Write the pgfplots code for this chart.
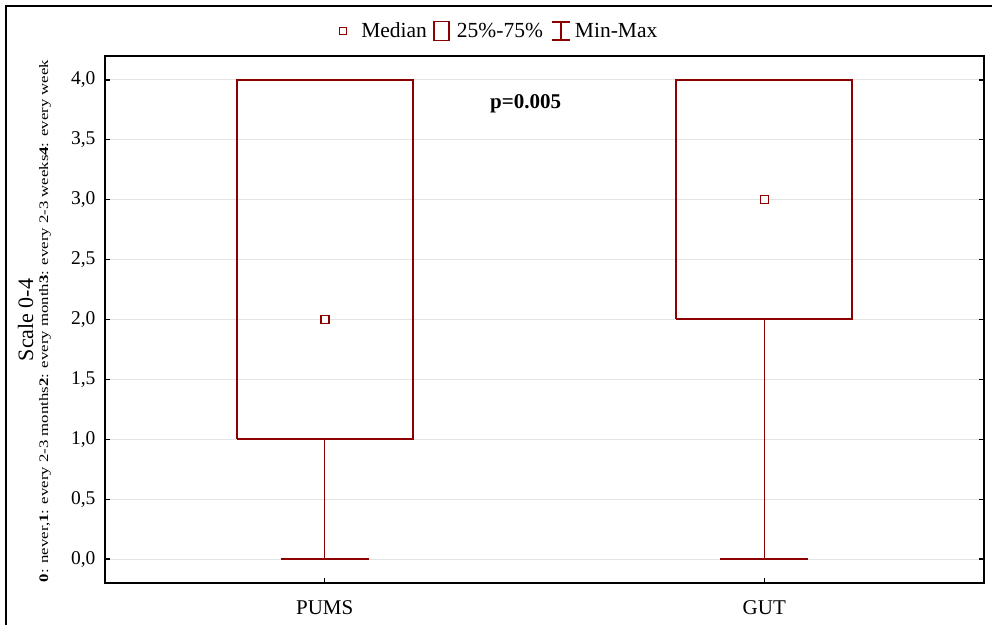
\documentclass[border=0pt]{standalone}
\usepackage{fontspec}
\setmainfont{Liberation Serif}
\usepackage{graphicx}
\usepackage{pgfplots}
\pgfplotsset{compat=1.18}
\definecolor{boxred}{RGB}{140,0,0}

\begin{document}
\begin{tikzpicture}[x=1bp,y=1bp]
\useasboundingbox (0,0) rectangle (992,625);
% outer frame (cut at right and bottom)
\draw[line width=2.5bp] (6,-10) -- (6,619) -- (1010,619);

\begin{axis}[
    at={(105bp,42bp)}, anchor=south west,
    scale only axis, width=879bp, height=527bp,
    xmin=0.5, xmax=2.5, ymin=-0.2, ymax=4.2,
    xtick={1,2}, xticklabels={PUMS,GUT},
    ytick={0,0.5,1,1.5,2,2.5,3,3.5,4},
    yticklabel style={font=\fontsize{19.5bp}{22bp}\selectfont, xshift=-6bp,
        /pgf/number format/fixed, /pgf/number format/fixed zerofill,
        /pgf/number format/precision=1, /pgf/number format/use comma,
        /pgf/number format/assume math mode=true},
    xticklabel style={font=\fontsize{21bp}{23bp}\selectfont, yshift=-14bp},
    ymajorgrids, grid style={gray!22, line width=1bp},
    axis line style={line width=1.5bp, black},
    tick style={black, line width=1.2bp},
    major tick length=5bp, tick align=inside, xtick pos=left,
    clip=false,
    legend columns=3,
    legend style={at={(0.4470,1.0474)}, anchor=center, draw=none, fill=none,
        font=\fontsize{21.5bp}{24bp}\selectfont,
        nodes={inner xsep=0pt, inner ysep=1bp},
        column sep=0pt},
]
% boxes 25%-75%
\addplot[boxred, line width=2bp, line join=miter, forget plot] coordinates {(0.8,1) (1.2,1) (1.2,4) (0.8,4) (0.8,1)};
\addplot[boxred, line width=2bp, line join=miter, forget plot] coordinates {(1.8,2) (2.2,2) (2.2,4) (1.8,4) (1.8,2)};
% whiskers min-max
\addplot[boxred, line width=1.2bp, forget plot] coordinates {(1,1) (1,0)};
\addplot[boxred, line width=1.5bp, forget plot] coordinates {(0.9,0) (1.1,0)};
\addplot[boxred, line width=1.2bp, forget plot] coordinates {(2,2) (2,0)};
\addplot[boxred, line width=1.5bp, forget plot] coordinates {(1.9,0) (2.1,0)};
% medians
\addplot[only marks, mark=square*, mark size=4bp, mark options={fill=white, draw=boxred, line width=1.5bp}, forget plot] coordinates {(1,2) (2,3)};

\addlegendimage{legend image code/.code={
    \draw[boxred, line width=1.5bp, fill=white] (0bp,-3.5bp) rectangle (7bp,3.5bp);
    \path[draw=none] (0bp,0bp) -- (22bp,0bp);}}
\addlegendentry{Median}
\addlegendimage{legend image code/.code={
    \path[draw=none] (-7bp,0bp) -- (23bp,0bp);
    \draw[boxred, line width=1.5bp] (0bp,-9.5bp) rectangle (15bp,9.5bp);}}
\addlegendentry{25\%-75\%}
\addlegendimage{legend image code/.code={
    \path[draw=none] (-9bp,0bp) -- (23bp,0bp);
    \draw[boxred, line width=1.3bp] (0bp,-9bp) -- (18bp,-9bp) (9bp,-9bp) -- (9bp,9bp) (0bp,9bp) -- (18bp,9bp);}}
\addlegendentry{Min-Max}

\node[font=\bfseries\fontsize{21bp}{24bp}\selectfont] at (axis cs:1.457,3.8) {p=0.005};
\end{axis}

\node[rotate=90, anchor=base, font=\fontsize{22bp}{24bp}\selectfont] at (33,305) {Scale 0-4};
\node[rotate=90, anchor=base, inner sep=0pt, font=\fontsize{13bp}{15bp}\selectfont] at (48,304)
    {\resizebox{522bp}{\height}{\textbf{0}: never,\textbf{1}: every 2-3 months\textbf{2}: every month\textbf{3}: every 2-3 weeks\textbf{4}: every week}};
\end{tikzpicture}
\end{document}
